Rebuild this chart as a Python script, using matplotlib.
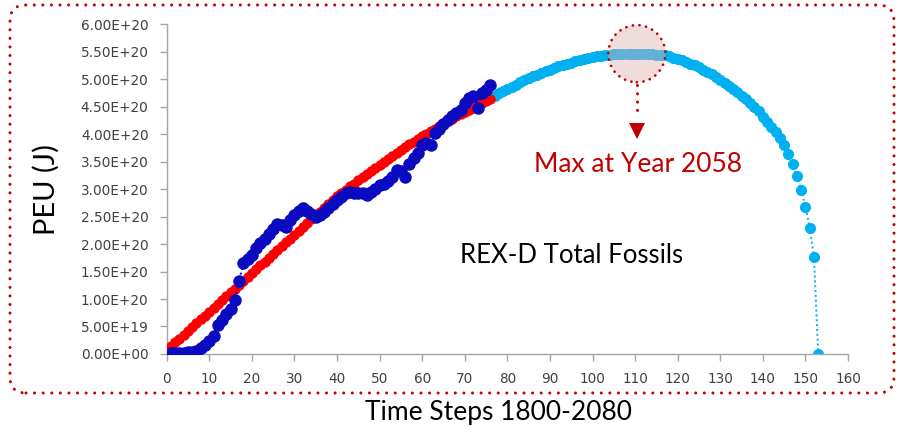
import matplotlib
matplotlib.use("Agg")
import matplotlib.pyplot as plt
from matplotlib.patches import FancyBboxPatch, Ellipse
from matplotlib.ticker import FuncFormatter, MultipleLocator

# PEU values are in units of 1e20 J
SCALE = 1e20

hist_steps = list(range(1, 77))
hist_peu = [0.02, 0.02, 0.02, 0.02, 0.03, 0.04, 0.06, 0.10, 0.16, 0.24,
            0.33, 0.52, 0.62, 0.72, 0.82, 0.98, 1.33, 1.65, 1.72, 1.80,
            1.92, 2.01, 2.10, 2.18, 2.28, 2.36, 2.35, 2.31, 2.44, 2.52,
            2.60, 2.66, 2.60, 2.55, 2.50, 2.52, 2.58, 2.66, 2.72, 2.80,
            2.86, 2.92, 2.94, 2.93, 2.93, 2.92, 2.90, 2.94, 3.00, 3.07,
            3.10, 3.14, 3.22, 3.35, 3.32, 3.22, 3.45, 3.56, 3.65, 3.80,
            3.84, 3.80, 4.01, 4.10, 4.18, 4.25, 4.32, 4.38, 4.44, 4.56,
            4.66, 4.70, 4.47, 4.74, 4.80, 4.89]

fit_steps = list(range(1, 77))
fit_peu = [0.14, 0.21, 0.28, 0.35, 0.42, 0.49, 0.56, 0.63, 0.70, 0.77,
           0.84, 0.91, 0.98, 1.05, 1.12, 1.19, 1.26, 1.33, 1.40, 1.47,
           1.54, 1.61, 1.68, 1.75, 1.82, 1.89, 1.96, 2.03, 2.10, 2.17,
           2.24, 2.31, 2.38, 2.45, 2.52, 2.59, 2.66, 2.73, 2.80, 2.87,
           2.93, 2.99, 3.05, 3.10, 3.16, 3.22, 3.28, 3.33, 3.39, 3.44,
           3.50, 3.55, 3.60, 3.66, 3.71, 3.76, 3.81, 3.86, 3.91, 3.96,
           4.00, 4.05, 4.10, 4.14, 4.19, 4.23, 4.28, 4.32, 4.36, 4.40,
           4.44, 4.48, 4.52, 4.56, 4.60, 4.64]

proj_steps = list(range(76, 154))
proj_peu = [4.65, 4.69, 4.74, 4.78, 4.82, 4.86, 4.90, 4.94, 4.98, 5.01,
            5.05, 5.08, 5.11, 5.14, 5.17, 5.20, 5.23, 5.25, 5.28, 5.30,
            5.32, 5.34, 5.36, 5.38, 5.40, 5.41, 5.42, 5.43, 5.44, 5.45,
            5.45, 5.46, 5.46, 5.46, 5.46, 5.46, 5.46, 5.45, 5.45, 5.44,
            5.44, 5.43, 5.41, 5.39, 5.37, 5.34, 5.31, 5.28, 5.25, 5.21,
            5.17, 5.13, 5.09, 5.04, 4.99, 4.93, 4.88, 4.82, 4.76, 4.70,
            4.64, 4.57, 4.50, 4.41, 4.31, 4.22, 4.13, 4.04, 3.93, 3.80,
            3.64, 3.45, 3.23, 2.98, 2.68, 2.30, 1.77, 0.00]

DARK_RED = "#C00000"
TXT = ["Lato", "DejaVu Sans"]

fig = plt.figure(figsize=(8.99, 4.28), dpi=100)
ax = fig.add_axes([0.1854, 0.1729, 0.7579, 0.7710])

ax.plot(proj_steps, [v * SCALE for v in proj_peu], color="#00B0F0",
        linestyle=(0, (1, 1.5)), linewidth=1.4, marker="o", markersize=8,
        markeredgewidth=0, zorder=2)
ax.plot(fit_steps, [v * SCALE for v in fit_peu], color="#FF0000",
        linestyle=(0, (1, 1.5)), linewidth=1.4, marker="o", markersize=7.5,
        markeredgewidth=0, zorder=3)
ax.plot(hist_steps, [v * SCALE for v in hist_peu], color="#0A0AC0",
        linestyle=(0, (1, 1.5)), linewidth=1.4, marker="o", markersize=9,
        markeredgewidth=0, zorder=4)

ax.set_xlim(0, 160)
ax.set_ylim(0, 6e20)
ax.xaxis.set_major_locator(MultipleLocator(10))
ax.yaxis.set_major_locator(MultipleLocator(0.5e20))
ax.yaxis.set_major_formatter(FuncFormatter(lambda v, p: f"{v:.2E}"))

for s in ["top", "right"]:
    ax.spines[s].set_visible(False)
for s in ["left", "bottom"]:
    ax.spines[s].set_color("#A6A6A6")
    ax.spines[s].set_linewidth(1.0)
ax.tick_params(axis="both", direction="out", length=5, width=1,
               color="#A6A6A6", labelcolor="#404040", labelsize=9.8)
ax.tick_params(axis="x", pad=8)
ax.tick_params(axis="y", pad=8)
for lab in ax.get_xticklabels() + ax.get_yticklabels():
    lab.set_family("DejaVu Sans")

ax.set_xlabel("Time Steps 1800-2080", fontsize=19, family=TXT, labelpad=10)
ax.xaxis.label.set_x(0.487)
ax.set_ylabel("PEU (J)", fontsize=21, family=TXT, labelpad=15)

# highlight of the maximum
peak = max(proj_peu)
peak_steps = [s for s, v in zip(proj_steps, proj_peu) if v == peak]
px = sum(peak_steps) / len(peak_steps) + 0.9
py = peak * SCALE
ax.add_patch(Ellipse((px, py), 13.4, 1.04e20, facecolor="#E1B0B0",
                     alpha=0.44, edgecolor="none", zorder=5))
ax.add_patch(Ellipse((px, py), 13.4, 1.04e20, facecolor="none",
                     edgecolor=DARK_RED, linewidth=2.0,
                     linestyle=(0, (0.01, 2.4)), capstyle="round", zorder=6))
ax.plot([px, px], [py - 0.57e20, py - 1.17e20], color=DARK_RED,
        linewidth=2.2, linestyle=(0, (0.01, 2.7)), solid_capstyle="round",
        dash_capstyle="round", zorder=6)
ax.plot([px], [py - 1.40e20], marker="v", markersize=11.5, color=DARK_RED,
        markeredgewidth=0, zorder=6)
ax.text(px + 0.3, py - 2.01e20, "Max at Year 2058", color=DARK_RED,
        fontsize=19, family=TXT, ha="center", va="center", zorder=6)

ax.text(95.1, 1.80e20, "REX-D Total Fossils", color="black", fontsize=18.5,
        family=TXT, ha="center", va="center")

# dotted frame around the chart area
frame = FancyBboxPatch((10, 35), 884, 388,
                       boxstyle="round,pad=0,rounding_size=16",
                       transform=None, facecolor="none", edgecolor=DARK_RED,
                       linewidth=2.2, linestyle=(0, (0.01, 2.8)),
                       capstyle="round")
fig.patches.append(frame)

fig.savefig("out.png", dpi=100)
